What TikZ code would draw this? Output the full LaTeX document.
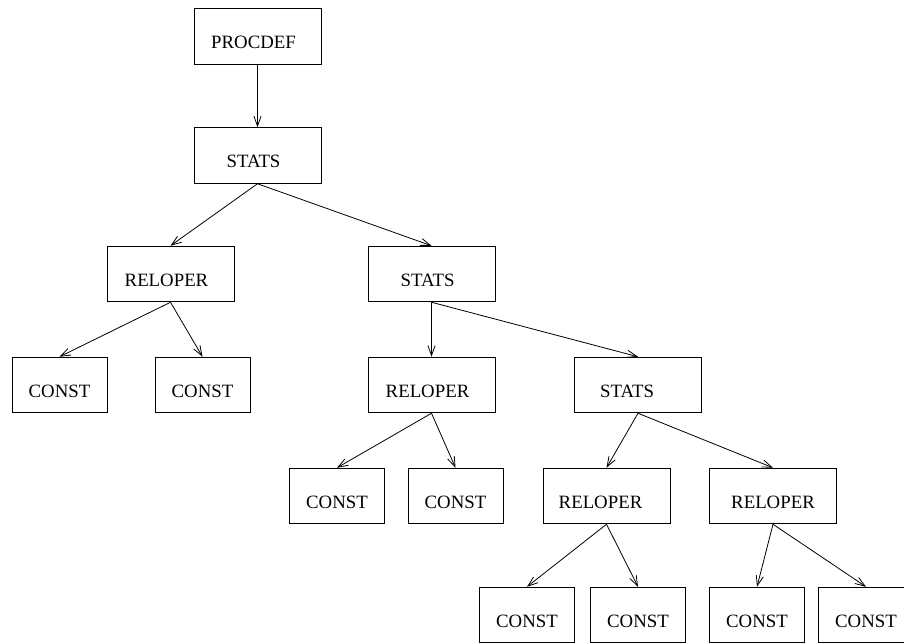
\documentclass[tikz,border=0pt]{standalone}
\usepackage{fontspec}
\setmainfont{Liberation Serif}
\usepackage{tikz}
\usetikzlibrary{arrows.meta, positioning}

\begin{document}
\begin{tikzpicture}[
    x=0.5pt, y=-0.5pt,
    textoff/.style={execute at end node={\hspace*{#1}}},
    basebox/.style={draw, line width=0.5pt, minimum height=27.75pt, inner sep=0pt, text height=12.2pt, text depth=0pt, font=\fontsize{9.4}{11}\selectfont},
    nodebox/.style={basebox, minimum width=63.5pt, textoff=4pt},
    leafbox/.style={basebox, minimum width=47.5pt},
    arrow/.style={-{Straight Barb[length=5pt, width=3.6pt]}, line width=0.4pt},
]
    \useasboundingbox (0,0) rectangle (904,643);

    % Root and first statement list
    \node[nodebox] (procdef) at (257.5,36.5) {PROCDEF};
    \node[nodebox] (stats1) at (257.5,155.5) {STATS};

    % Level 2
    \node[nodebox] (reloper1) at (170.5,274) {RELOPER};
    \node[nodebox] (stats2) at (431.5,274) {STATS};

    % Level 3
    \node[leafbox] (const1) at (59.5,385) {CONST};
    \node[leafbox] (const2) at (202.5,385) {CONST};
    \node[nodebox] (reloper2) at (431.5,385) {RELOPER};
    \node[nodebox, textoff=7pt] (stats3) at (638,385) {STATS};

    % Level 4
    \node[leafbox] (const3) at (337,496) {CONST};
    \node[leafbox] (const4) at (455.5,496) {CONST};
    \node[nodebox, textoff=2pt] (reloper3) at (606.5,496) {RELOPER};
    \node[nodebox, textoff=-4pt] (reloper4) at (773,496) {RELOPER};

    % Leaves
    \node[leafbox] (const5) at (527,615) {CONST};
    \node[leafbox] (const6) at (638,615) {CONST};
    \node[leafbox] (const7) at (757,615) {CONST};
    \node[leafbox] (const8) at (866,615) {CONST};

    % Arrows
    \draw[arrow] (procdef) -- (stats1);
    \draw[arrow] (stats1.south) -- (reloper1.north);
    \draw[arrow] (stats1.south) -- (stats2.north);
    \draw[arrow] (reloper1.south) -- (const1.north);
    \draw[arrow] (reloper1.south) -- (const2.north);
    \draw[arrow] (stats2.south) -- (reloper2.north);
    \draw[arrow] (stats2.south) -- (stats3.north);
    \draw[arrow] (reloper2.south) -- (const3.north);
    \draw[arrow] (reloper2.south) -- (const4.north);
    \draw[arrow] (stats3.south) -- (reloper3.north);
    \draw[arrow] (stats3.south) -- (reloper4.north);
    \draw[arrow] (reloper3.south) -- (const5.north);
    \draw[arrow] (reloper3.south) -- (const6.north);
    \draw[arrow] (reloper4.south) -- (const7.north);
    \draw[arrow] (reloper4.south) -- (const8.north);
\end{tikzpicture}
\end{document}
